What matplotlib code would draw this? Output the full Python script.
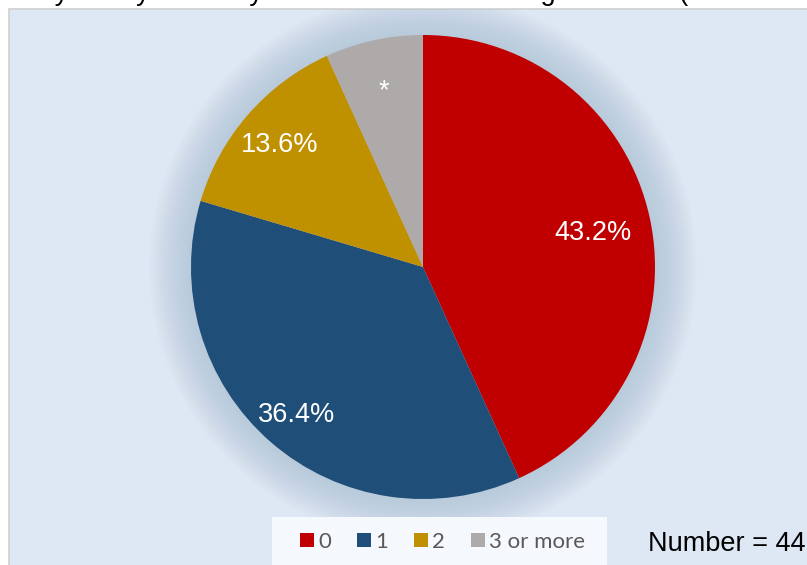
import matplotlib
matplotlib.use('Agg')
import matplotlib.pyplot as plt
from matplotlib.patches import Rectangle, Circle, Patch
import numpy as np

# data
categories = ['0', '1', '2', '3 or more']
shares = [43.2, 36.4, 13.6, 6.8]
slice_labels = ['43.2%', '36.4%', '13.6%', '*']
colors = ['#c00000', '#1f4e79', '#bf9000', '#aeaaaa']
label_dist = [0.75, 0.83, 0.82, 0.79]
n_total = 44
title = 'Many of any for a day at the most visits during the week (share of visitors)'

W, H = 807, 565
cx, cy, R = 423, H - 267, 232

plt.rcParams['font.family'] = ['Liberation Sans', 'DejaVu Sans']

fig = plt.figure(figsize=(W / 100, H / 100), dpi=100)
fig.patch.set_facecolor('white')

# title (cut off at the top edge, only the descenders show, as in the source)
fig.text(2 / W, 1.0, title, fontsize=19.5, color='black', va='baseline', ha='left')

# chart area
area = Rectangle((9 / W, -0.05), 1.1, 1 - 9 / H + 0.05, transform=fig.transFigure,
                 facecolor='#dde8f4', edgecolor='#d0d0d0', lw=1.2, zorder=0)
fig.add_artist(area)

ax = fig.add_axes([0, 0, 1, 1])
ax.set_facecolor('none')

# soft shadow round the pie, kept inside the chart area
for r in np.linspace(R + 42, R, 22):
    c = Circle((cx, cy), r, facecolor='#8da3ba', alpha=0.02, lw=0)
    ax.add_patch(c)
    c.set_clip_path(area)

wedges, _ = ax.pie(shares, colors=colors, startangle=90, counterclock=False,
                   center=(cx, cy), radius=R, wedgeprops=dict(linewidth=0))

for w, lab, d in zip(wedges, slice_labels, label_dist):
    th = np.deg2rad((w.theta1 + w.theta2) / 2)
    ax.text(cx + d * R * np.cos(th), cy + d * R * np.sin(th) - 3, lab, color='white',
            fontsize=19.5, ha='center', va='center')

ax.set_xlim(0, W)
ax.set_ylim(0, H)
ax.set_aspect('auto')
ax.axis('off')

# legend box
fig.add_artist(Rectangle((272 / W, -0.05), (607 - 272) / W, (565 - 517) / H + 0.05,
                         transform=fig.transFigure, facecolor='#f5f8fc', edgecolor='none', zorder=1))
handles = [Patch(facecolor=c, edgecolor='none') for c in colors]
leg = fig.legend(handles, categories, ncol=4, loc='center left',
                 bbox_to_anchor=(300 / W, 1 - 542 / H), frameon=False, borderpad=0,
                 borderaxespad=0, handlelength=0.63, handleheight=0.63, handletextpad=0.2,
                 columnspacing=1.15, prop={'family': 'Lato', 'size': 16}, labelcolor='#595959')
leg.set_zorder(2)

fig.text(648 / W, 1 - 551 / H, f'Number = {n_total}', fontsize=19.5, color='black',
         va='baseline', ha='left')

fig.savefig('out.png', dpi=100, facecolor='white')
